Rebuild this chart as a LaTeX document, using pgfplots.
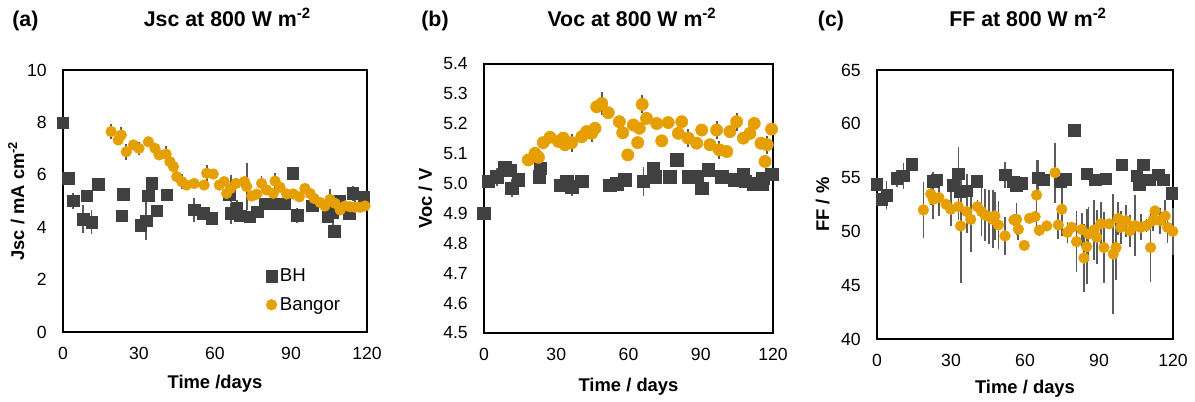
\documentclass[border=0pt]{standalone}
\usepackage{fontspec}
\setmainfont{Liberation Sans}
\usepackage{pgfplots}
\pgfplotsset{compat=1.18}
\definecolor{bh}{HTML}{404040}
\definecolor{bangor}{HTML}{E69F00}
\definecolor{ebar}{HTML}{5A5A5A}

\pgfplotsset{
  panel/.style={
    scale only axis, clip=false,
    axis line style={line width=1.1pt},
    major tick length=0pt,
    /pgf/number format/assume math mode=true,
    tick label style={font=\fontsize{13.2}{15}\selectfont, inner sep=0pt},
    yticklabel style={xshift=-12pt},
    xticklabel style={yshift=-11.5pt},
    label style={font=\bfseries\fontsize{13.8}{16}\selectfont},
    xmin=0, xmax=120, xtick={0,30,...,120},
  },
  errs/.style={error bars/.cd, y dir=both, y explicit, error mark=none,
    error bar style={draw=ebar, line width=1.3pt}},
  bhp/.style={only marks, mark=square*, color=bh, mark size=#1, errs},
  bgp/.style={only marks, mark=*, color=bangor, mark size=#1, errs},
}
\tikzset{ttl/.style={anchor=base, font=\bfseries\fontsize{16}{19}\selectfont}}

\begin{document}
\begin{tikzpicture}
\path[use as bounding box] (0,0) rectangle (896.25pt,300.75pt);

% titles
\node[ttl] at (19pt,280.5pt) {(a)};
\node[ttl] at (170.5pt,280.5pt) {Jsc at 800 W m\textsuperscript{-2}};
\node[ttl] at (326.25pt,280.5pt) {(b)};
\node[ttl] at (474pt,280.5pt) {Voc at 800 W m\textsuperscript{-2}};
\node[ttl] at (623.25pt,280.5pt) {(c)};
\node[ttl] at (771pt,280.5pt) {FF at 800 W m\textsuperscript{-2}};

% (a) Jsc
\begin{axis}[panel, at={(47.25pt,51.75pt)}, anchor=south west,
  width=228pt, height=196.5pt,
  ymin=0, ymax=10, ytick={0,2,...,10},
  xlabel={Time /days}, ylabel={Jsc / mA cm\textsuperscript{-2}},
  xlabel style={at={(axis description cs:0.5,-0.214)}, anchor=base},
  ylabel style={at={(axis description cs:-0.128,0.5)}, anchor=base, rotate=0},
  legend style={at={(0.662,0.257)}, anchor=north west, draw=none, fill=none,
    font=\fontsize{14}{16}\selectfont, row sep=6.2pt, inner sep=1pt},
  legend cell align=left,
  legend image code/.code={\draw[mark repeat=2,mark phase=2,#1] plot coordinates {(0cm,0cm) (0.14cm,0cm) (0.28cm,0cm)};},
]
\addplot[bhp=4.3pt] table[x=x, y=y, y error=e] {
x y e
0 7.98 0.05
2 5.87 0.1
4 5.01 0.3
8 4.31 0.55
9.3 5.19 0.1
11.3 4.19 0.45
14 5.64 0.1
23.2 4.43 0.1
23.8 5.26 0.1
30.8 4.08 0.1
32.8 4.25 0.75
33.7 5.19 0.1
35 5.67 0.1
37 4.62 0.1
41 5.23 0.1
51.8 4.66 0.45
55.4 4.53 0.1
58.7 4.34 0.1
65.7 5.23 0.2
66.3 4.53 0.4
68.6 4.72 0.3
69.9 4.43 0.1
73.8 4.40 0.1
76.7 4.59 0.1
79.6 4.89 0.1
84.4 4.89 0.1
87.6 4.89 0.1
90.7 6.06 0.1
92.5 4.45 0.3
98.4 4.81 0.1
104.5 4.40 0.1
106.5 4.55 0.45
107.1 3.85 0.1
109.1 5.01 0.1
113 4.53 0.1
114.4 5.29 0.3
118.8 5.14 0.1
};
\addlegendentry{BH}
\addplot[bgp=4pt] table[x=x, y=y, y error=e] {
x y e
19 7.65 0.3
21.8 7.33 0.2
23 7.52 0.3
25 6.88 0.3
27.8 7.14 0.2
30 7.01 0.25
33.7 7.26 0.2
36.3 7.01 0.2
37.9 6.76 0.2
40.7 6.79 0.3
42.2 6.50 0.2
43.6 6.31 0.2
44.9 5.93 0.2
46.9 5.74 0.3
48.8 5.61 0.2
51.8 5.67 0.1
55.7 5.61 0.1
56.7 6.06 0.3
59.3 6.03 0.1
61.7 5.61 0.1
63.6 5.74 0.1
64.6 5.29 0.2
66.2 5.48 0.5
68.3 5.67 0.2
71.6 5.74 0.1
72.5 5.55 0.9
74.5 5.19 0.1
76.5 5.26 0.1
78.4 5.67 0.3
80.4 5.42 0.1
83 5.29 0.1
83.7 5.76 0.3
85.7 5.52 0.1
88.3 5.27 0.1
90.9 5.27 0.1
93.3 5.16 0.1
95.5 5.48 0.1
97.5 5.29 0.1
99.1 5.10 0.1
101.5 4.94 0.1
103.4 4.81 0.1
105.4 5.06 0.4
107.4 4.91 0.1
109.4 4.66 0.1
111.3 4.81 0.1
113.3 4.78 0.1
115.3 4.76 0.3
117.3 4.76 0.1
119.2 4.81 0.1
};
\addlegendentry{Bangor}
\end{axis}

% (b) Voc
\begin{axis}[panel, at={(363pt,51pt)}, anchor=south west,
  width=216.75pt, height=201.75pt,
  ymin=4.5, ymax=5.4, ytick={4.5,4.6,...,5.41},
  yticklabel style={/pgf/number format/.cd, fixed, fixed zerofill, precision=1},
  xlabel={Time / days}, ylabel={Voc / V},
  xlabel style={at={(axis description cs:0.5,-0.219)}, anchor=base},
  ylabel style={at={(axis description cs:-0.180,0.5)}, anchor=base, rotate=0},
]
\addplot[bhp=4.7pt] table[x=x, y=y, y error=e] {
x y e
0 4.90 0.005
1.8 5.007 0.02
5.3 5.023 0.03
8.7 5.054 0.02
10.8 5.045 0.02
11.5 4.984 0.03
14.3 5.012 0.01
23.3 5.051 0.01
23.0 5.023 0.01
31.6 4.995 0.01
34.3 5.007 0.02
36.4 4.99 0.03
40.6 5.007 0.01
52.3 4.995 0.01
55.1 5.0 0.01
58.5 5.012 0.01
66.2 5.007 0.05
70.3 5.051 0.01
71 5.023 0.01
77.2 5.023 0.01
80 5.079 0.01
84.8 5.023 0.01
88.3 5.023 0.01
90.4 4.984 0.01
93.1 5.047 0.01
98.7 5.023 0.01
104.2 5.012 0.01
107.7 5.029 0.01
108.4 5.007 0.01
111.8 5.0 0.01
115.3 5.0 0.01
115.7 5.017 0.01
119.4 5.031 0.01
};
\addplot[bgp=4.6pt] table[x=x, y=y, y error=e] {
x y e
18.4 5.079 0.02
21.2 5.101 0.02
22.6 5.088 0.02
24.6 5.137 0.02
27.4 5.155 0.01
30.9 5.141 0.01
32.9 5.152 0.01
33.6 5.13 0.02
36.4 5.137 0.03
40.6 5.157 0.02
42.6 5.174 0.02
44.7 5.168 0.03
46.1 5.185 0.02
46.8 5.257 0.02
48.9 5.268 0.04
51.6 5.237 0.01
56.2 5.207 0.01
57.6 5.17 0.02
59.7 5.096 0.01
62 5.196 0.01
63.8 5.137 0.01
64.5 5.185 0.02
65.7 5.265 0.03
67.5 5.218 0.02
71.7 5.201 0.01
73.8 5.143 0.01
76.5 5.204 0.01
80.7 5.168 0.02
82.1 5.207 0.01
84.8 5.152 0.03
88.3 5.135 0.02
90.4 5.179 0.02
93.8 5.13 0.02
96.6 5.179 0.03
97.7 5.113 0.03
100.8 5.107 0.01
102.1 5.174 0.01
104.9 5.207 0.03
107.7 5.152 0.01
110.4 5.168 0.02
112.2 5.201 0.01
115 5.135 0.02
116.7 5.074 0.02
117.6 5.13 0.03
119.4 5.182 0.01
};
\end{axis}

% (c) FF
\begin{axis}[panel, at={(657.75pt,46.5pt)}, anchor=south west,
  width=222pt, height=201.75pt,
  ymin=40, ymax=65, ytick={40,45,...,65},
  xlabel={Time / days}, ylabel={FF / \%},
  xlabel style={at={(axis description cs:0.5,-0.204)}, anchor=base},
  ylabel style={at={(axis description cs:-0.162,0.5)}, anchor=base, rotate=0},
]
\addplot[bhp=4.3pt] table[x=x, y=y, y error=e] {
x y e
0 54.4 0.2
1.9 52.98 0.3
3.9 53.38 1.3
8 54.93 0.8
10.7 55.15 1.2
14 56.23 0.2
22.8 54.68 0.8
24.2 54.78 0.6
30.9 54.3 0.5
33 55.34 2.5
33.6 53.7 0.5
36.4 53.8 1.5
40.4 54.68 0.3
51.9 55.24 1.2
55.3 54.62 0.4
56.4 54.3 0.3
58.6 54.46 0.3
65.4 55.0 1.6
67.4 54.78 0.3
74.2 54.62 0.3
76.6 54.84 0.3
80 59.42 0.2
85 55.34 0.3
88.4 54.78 0.3
92.8 54.87 0.4
99.2 56.17 0.2
105.3 55.15 0.3
106.4 54.4 0.3
108 56.17 0.2
110.4 54.78 0.3
114.1 55.24 0.3
116.1 54.78 0.3
119.5 53.54 0.3
};
\addplot[bgp=4pt] table[x=x, y=y, y error=e] {
x y e
18.8 52.0 2.6
21.8 53.48 1.0
22.8 52.98 1.8
25.1 53.14 1.7
28 52.52 0.5
29.9 52.06 1.6
33 52.3 1.2
33.9 50.51 5.3
36.4 51.84 2.0
38 51.12 3.0
40.7 52.3 0.6
42.4 51.84 2.3
43.8 51.52 2.4
45.5 51.37 2.5
46.9 51.12 2.7
47.8 51.43 2.2
49.2 50.6 2.2
51.9 49.58 1.8
55.5 51.06 0.6
56.6 51.12 1.5
57.3 50.2 1.0
59.7 48.7 0.3
61.8 51.21 0.4
64.1 51.37 0.5
64.7 53.38 3.3
65.8 50.1 0.5
68.8 50.51 0.3
72.2 55.46 2.8
73.5 50.6 1.3
74.9 52.05 2.5
77.2 49.91 1.0
78.9 50.38 0.4
80.9 49.05 2.8
83 50.17 1.5
83.9 47.53 3.2
85 48.58 3.5
85.7 49.76 2.5
88 50.13 2.8
89.1 49.45 2.5
90.7 50.7 2.0
92 48.5 3.3
94.1 50.7 0.3
95.8 47.9 5.6
96.9 48.5 3.0
97.8 51.2 1.5
98.8 50.36 1.5
100.9 51.0 1.5
102.6 50.07 1.5
104.6 50.54 2.8
106.9 50.38 1.2
109.3 50.54 0.6
110.9 48.5 3.2
111.8 51.0 1.0
112.7 51.9 0.5
114.7 51.0 1.2
116.8 51.43 1.5
117.8 50.38 1.5
119.9 50.0 2.2
};
\end{axis}
\end{tikzpicture}
\end{document}
